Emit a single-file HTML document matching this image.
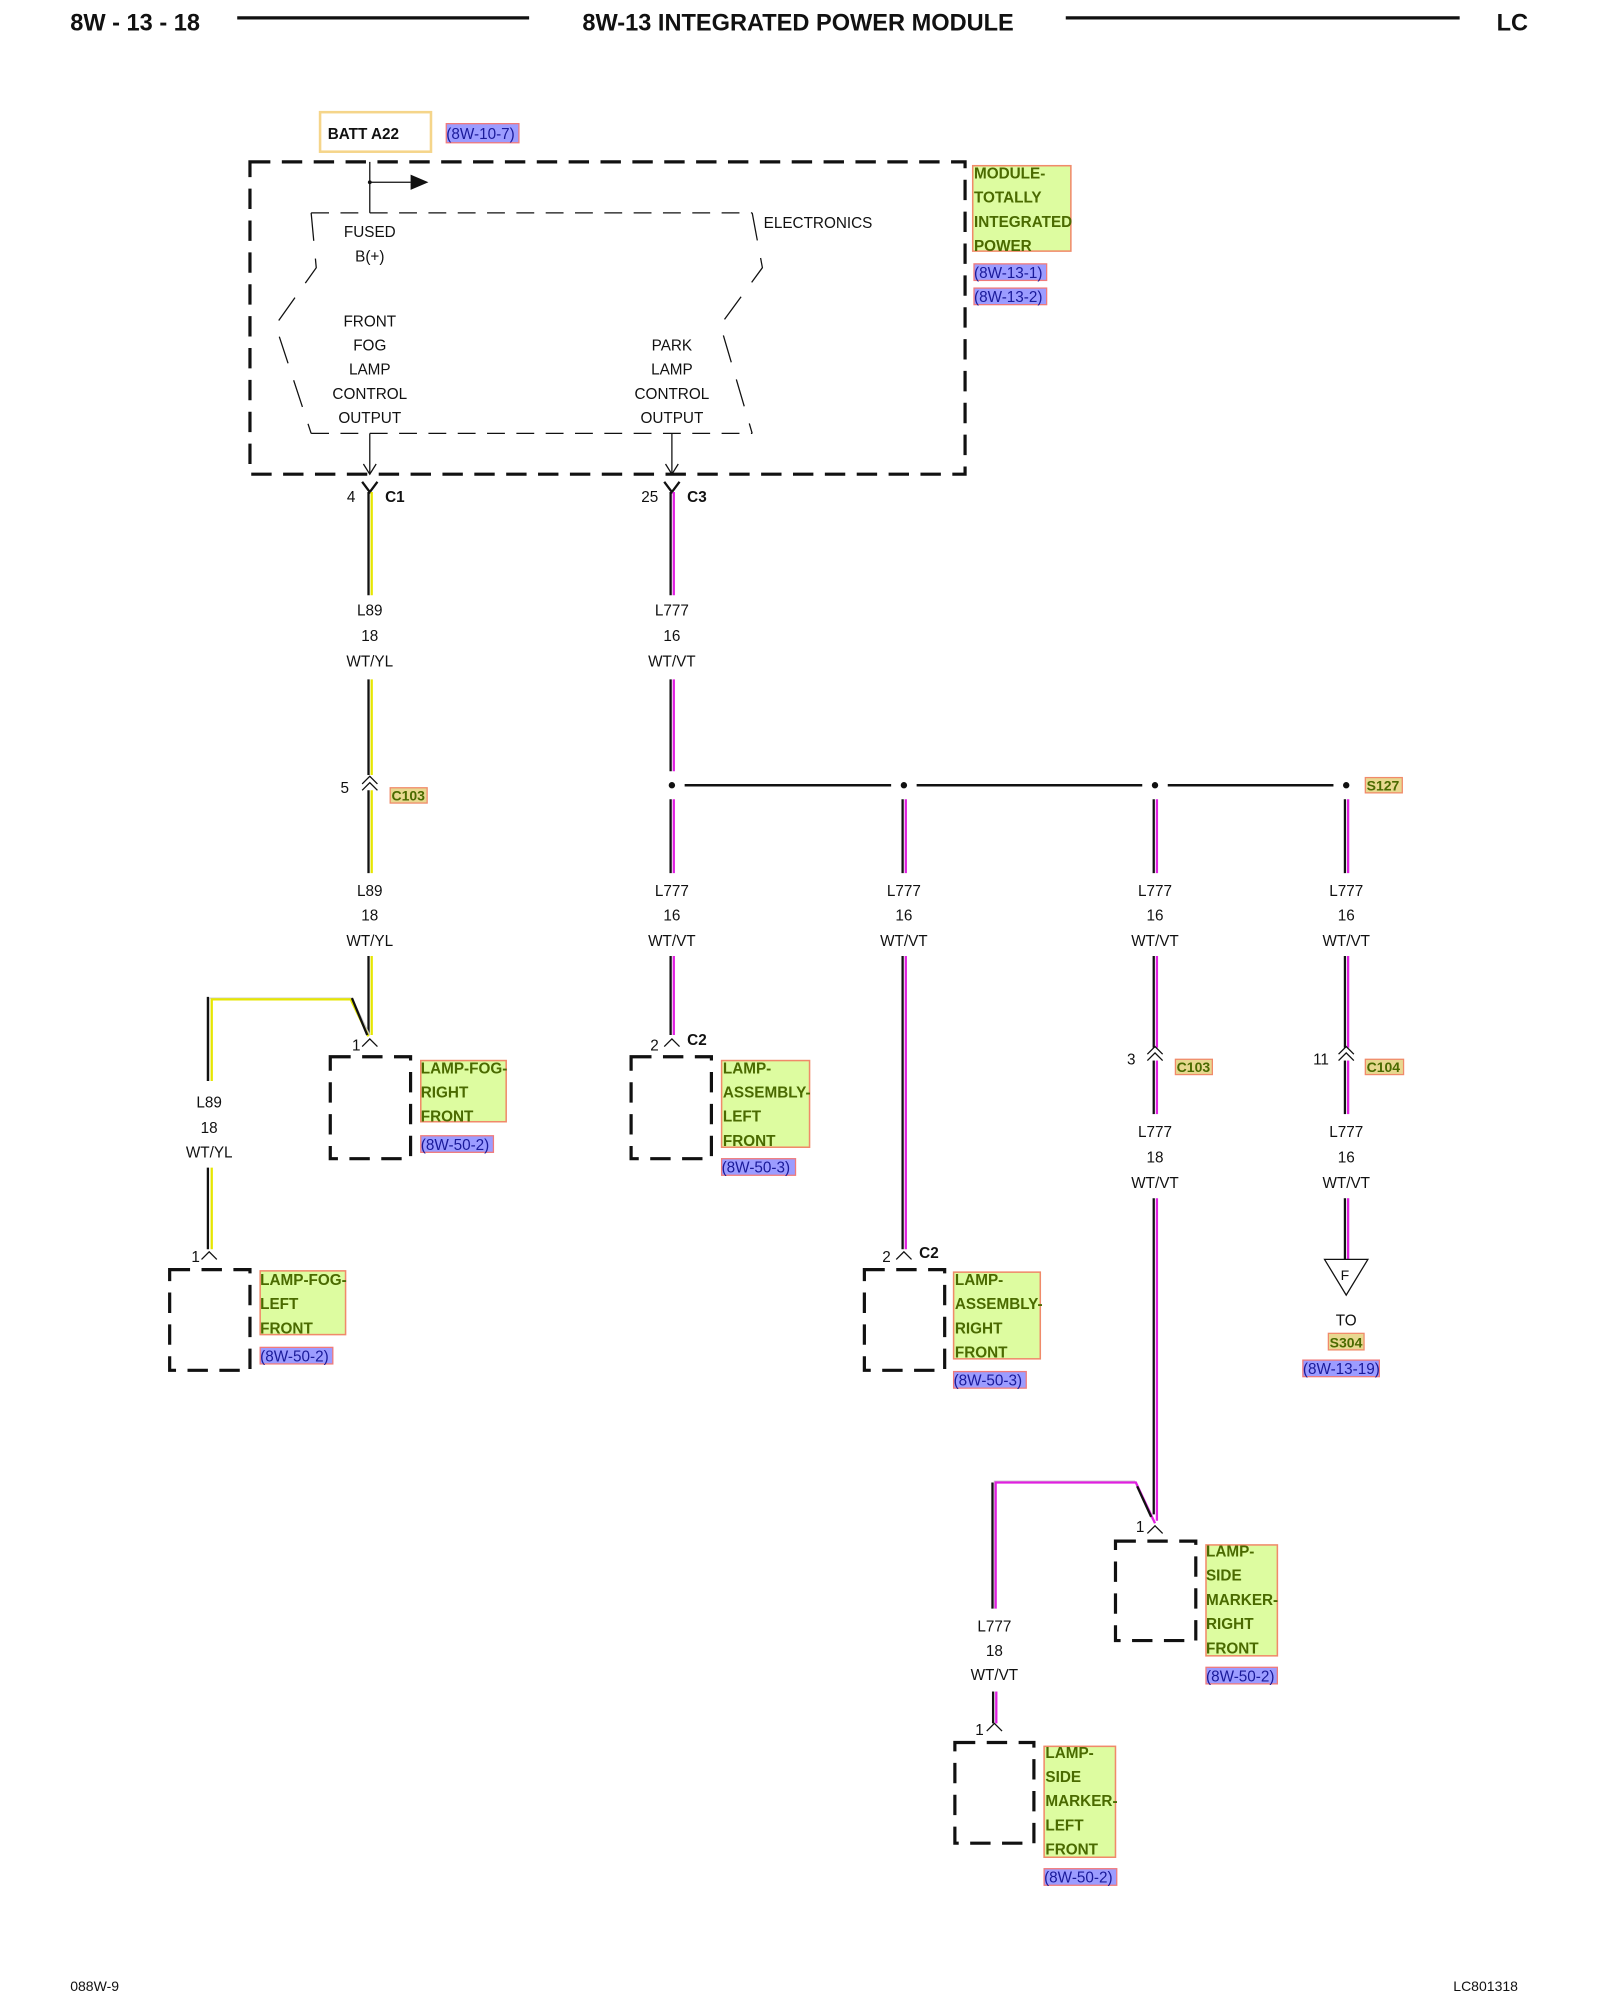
<!DOCTYPE html>
<html><head><meta charset="utf-8"><style>
html,body{margin:0;padding:0;background:#fff;}
svg{display:block;}
text{font-family:"Liberation Sans",sans-serif;}
.t{font-size:12px;fill:#111;text-anchor:middle;}
.tl{font-size:12px;fill:#111;}
.lb{font-size:12px;font-weight:bold;fill:#4a6a00;}
.rf{font-size:12px;fill:#1a1a9a;}
.lbox{fill:#ddfca0;stroke:#f08a6a;stroke-width:1.2;}
.rbox{fill:#9c9cff;stroke:#f07a7a;stroke-width:1;}
.cbox{fill:#e8d890;stroke:#f08a6a;stroke-width:1;}
.bk{stroke:#111;stroke-width:1.8;fill:none;}
.ye{stroke:#e6e600;stroke-width:1.8;fill:none;}
.mg{stroke:#e020e0;stroke-width:1.8;fill:none;}
.gy{stroke:#ccc;stroke-width:1;fill:none;}
.db{fill:none;stroke:#111;stroke-width:2.5;stroke-dasharray:16 9;}
.thin{stroke:#111;stroke-width:1;fill:none;}
</style></head><body>
<svg width="1600" height="2000" viewBox="0 0 1255 1569" xmlns="http://www.w3.org/2000/svg">
<!-- header -->
<text x="55" y="24" style="font-size:18.5px;font-weight:bold;fill:#111">8W - 13 - 18</text>
<line x1="186" y1="14" x2="415" y2="14" stroke="#111" stroke-width="2.5"/>
<text x="626" y="24" style="font-size:18.5px;font-weight:bold;fill:#111;text-anchor:middle">8W-13 INTEGRATED POWER MODULE</text>
<line x1="836" y1="14" x2="1145" y2="14" stroke="#111" stroke-width="2.5"/>
<text x="1174" y="24" style="font-size:18.5px;font-weight:bold;fill:#111">LC</text>
<text x="55" y="1562" style="font-size:11px;fill:#111">088W-9</text>
<text x="1140" y="1562" style="font-size:11px;fill:#111">LC801318</text>

<!-- BATT -->
<rect x="251" y="88" width="87" height="31" fill="#fff" stroke="#f5d58a" stroke-width="2"/>
<text x="257" y="109" style="font-size:12px;font-weight:bold;fill:#111">BATT A22</text>
<rect class="rbox" x="350" y="97" width="57" height="15"/><text class="rf" x="350" y="109">(8W-10-7)</text>

<!-- module -->
<rect class="db" x="196" y="127" width="561" height="245"/>
<line class="thin" x1="290" y1="127" x2="290" y2="167" stroke-width="1.5"/>
<line class="thin" x1="290" y1="143" x2="322" y2="143" stroke-width="1.5"/>
<circle cx="290" cy="143" r="1.5" fill="#111"/>
<polygon points="322,137 336,143 322,149" fill="#111"/>
<polyline points="244,167 590,167" class="thin" stroke-dasharray="14 9"/>
<polyline points="244,340 590,340" class="thin" stroke-dasharray="14 9"/>
<polyline points="244,167 248,210 216,255 244,340" class="thin" stroke-dasharray="22 14"/>
<polyline points="590,167 598,210 565,255 590,340" class="thin" stroke-dasharray="22 14"/>
<text class="t" x="290" y="186">FUSED</text><text class="t" x="290" y="205">B(+)</text>
<text class="t" x="290" y="256">FRONT</text><text class="t" x="290" y="275">FOG</text><text class="t" x="290" y="294">LAMP</text><text class="t" x="290" y="313">CONTROL</text><text class="t" x="290" y="332">OUTPUT</text>
<text class="t" x="527" y="275">PARK</text><text class="t" x="527" y="294">LAMP</text><text class="t" x="527" y="313">CONTROL</text><text class="t" x="527" y="332">OUTPUT</text>
<text class="tl" x="599" y="179">ELECTRONICS</text>
<line class="thin" x1="290" y1="340" x2="290" y2="372"/><polyline class="thin" points="285,364 290,372 295,364"/>
<line class="thin" x1="527" y1="340" x2="527" y2="372"/><polyline class="thin" points="522,364 527,372 532,364"/>
<rect class="lbox" x="763" y="130" width="77" height="67"/>
<text class="lb" x="764" y="140">MODULE-</text><text class="lb" x="764" y="159">TOTALLY</text><text class="lb" x="764" y="178">INTEGRATED</text><text class="lb" x="764" y="197">POWER</text>
<rect class="rbox" x="764" y="207" width="57" height="13"/><text class="rf" x="764" y="218">(8W-13-1)</text>
<rect class="rbox" x="764" y="226" width="57" height="13"/><text class="rf" x="764" y="237">(8W-13-2)</text>

<!-- C1 / C3 connectors -->
<polyline class="bk" stroke-width="1.2" points="284,378 290,386 296,378"/>
<text class="tl" x="272" y="394">4</text><text x="302" y="394" style="font-size:12px;font-weight:bold;fill:#111">C1</text>
<polyline class="bk" stroke-width="1.2" points="521,378 527,386 533,378"/>
<text class="tl" x="503" y="394">25</text><text x="539" y="394" style="font-size:12px;font-weight:bold;fill:#111">C3</text>

<!-- L89 wires -->
<g>
<line class="bk" x1="289" y1="386" x2="289" y2="467"/><line class="ye" x1="291.5" y1="386" x2="291.5" y2="467"/>
<text class="t" x="290" y="483">L89</text><text class="t" x="290" y="503">18</text><text class="t" x="290" y="523">WT/YL</text>
<line class="bk" x1="289" y1="533" x2="289" y2="608"/><line class="ye" x1="291.5" y1="533" x2="291.5" y2="608"/>
<polyline class="thin" points="284,615 290,609 296,615"/><polyline class="thin" points="284,620 290,614 296,620"/>
<text class="tl" x="267" y="622">5</text>
<rect class="cbox" x="306" y="618" width="29" height="12"/><text class="lb" x="307" y="628" style="font-size:11px">C103</text>
<line class="bk" x1="289" y1="620" x2="289" y2="685"/><line class="ye" x1="291.5" y1="620" x2="291.5" y2="685"/>
<text class="t" x="290" y="703">L89</text><text class="t" x="290" y="722">18</text><text class="t" x="290" y="742">WT/YL</text>
<line class="bk" x1="289" y1="750" x2="289" y2="812"/><line class="ye" x1="291.5" y1="750" x2="291.5" y2="812"/>
<polyline class="gy" stroke-width="3" points="164,848 164,783 276,783 290,812"/>
<polyline class="bk" points="163,848 163,782"/><polyline class="ye" points="166,848 166,784 275,784 289,813"/>
<line class="bk" x1="276" y1="783" x2="288" y2="812" stroke-width="1.2"/>
<text class="t" x="164" y="869">L89</text><text class="t" x="164" y="889">18</text><text class="t" x="164" y="908">WT/YL</text>
<line class="bk" x1="163" y1="916" x2="163" y2="980"/><line class="ye" x1="166" y1="916" x2="166" y2="980"/>
</g>
<!-- fog right -->
<polyline class="thin" points="284,821 290,815 296,821"/><text class="tl" x="276" y="824">1</text>
<rect class="db" x="259" y="829" width="63" height="80"/>
<rect class="lbox" x="330" y="832" width="67" height="48"/>
<text class="lb" x="330" y="842">LAMP-FOG-</text><text class="lb" x="330" y="861">RIGHT</text><text class="lb" x="330" y="880">FRONT</text>
<rect class="rbox" x="330" y="891" width="57" height="13"/><text class="rf" x="330" y="902">(8W-50-2)</text>
<!-- fog left -->
<polyline class="thin" points="158,988 164,982 170,988"/><text class="tl" x="150" y="990">1</text>
<rect class="db" x="133" y="996" width="63" height="79"/>
<rect class="lbox" x="204" y="997" width="67" height="50"/>
<text class="lb" x="204" y="1008">LAMP-FOG-</text><text class="lb" x="204" y="1027">LEFT</text><text class="lb" x="204" y="1046">FRONT</text>
<rect class="rbox" x="204" y="1057" width="57" height="13"/><text class="rf" x="204" y="1068">(8W-50-2)</text>

<!-- L777 main -->
<line class="bk" x1="526" y1="386" x2="526" y2="467"/><line class="mg" x1="528.5" y1="386" x2="528.5" y2="467"/>
<text class="t" x="527" y="483">L777</text><text class="t" x="527" y="503">16</text><text class="t" x="527" y="523">WT/VT</text>
<line class="bk" x1="526" y1="533" x2="526" y2="605"/><line class="mg" x1="528.5" y1="533" x2="528.5" y2="605"/>
<line x1="537" y1="616" x2="699" y2="616" stroke="#111" stroke-width="2"/>
<line x1="719" y1="616" x2="896" y2="616" stroke="#111" stroke-width="2"/>
<line x1="916" y1="616" x2="1046" y2="616" stroke="#111" stroke-width="2"/>
<circle cx="527" cy="616" r="2.5" fill="#111"/><circle cx="709" cy="616" r="2.5" fill="#111"/>
<circle cx="906" cy="616" r="2.5" fill="#111"/><circle cx="1056" cy="616" r="2.5" fill="#111"/>
<rect class="cbox" x="1071" y="610" width="29" height="12"/><text class="lb" x="1072" y="620" style="font-size:11px">S127</text>

<!-- branch top segments & labels -->
<g>
<line class="bk" x1="526" y1="627" x2="526" y2="685"/><line class="mg" x1="528.5" y1="627" x2="528.5" y2="685"/>
<line class="bk" x1="708" y1="627" x2="708" y2="685"/><line class="mg" x1="710.5" y1="627" x2="710.5" y2="685"/>
<line class="bk" x1="905" y1="627" x2="905" y2="685"/><line class="mg" x1="907.5" y1="627" x2="907.5" y2="685"/>
<line class="bk" x1="1055" y1="627" x2="1055" y2="685"/><line class="mg" x1="1057.5" y1="627" x2="1057.5" y2="685"/>
<text class="t" x="527" y="703">L777</text><text class="t" x="527" y="722">16</text><text class="t" x="527" y="742">WT/VT</text>
<text class="t" x="709" y="703">L777</text><text class="t" x="709" y="722">16</text><text class="t" x="709" y="742">WT/VT</text>
<text class="t" x="906" y="703">L777</text><text class="t" x="906" y="722">16</text><text class="t" x="906" y="742">WT/VT</text>
<text class="t" x="1056" y="703">L777</text><text class="t" x="1056" y="722">16</text><text class="t" x="1056" y="742">WT/VT</text>
</g>

<!-- left assembly -->
<line class="bk" x1="526" y1="750" x2="526" y2="812"/><line class="mg" x1="528.5" y1="750" x2="528.5" y2="812"/>
<polyline class="thin" points="521,821 527,815 533,821"/><text class="tl" x="510" y="824">2</text>
<text x="539" y="820" style="font-size:12px;font-weight:bold;fill:#111">C2</text>
<rect class="db" x="495" y="829" width="63" height="80"/>
<rect class="lbox" x="566" y="832" width="69" height="68"/>
<text class="lb" x="567" y="842">LAMP-</text><text class="lb" x="567" y="861">ASSEMBLY-</text><text class="lb" x="567" y="880">LEFT</text><text class="lb" x="567" y="899">FRONT</text>
<rect class="rbox" x="566" y="909" width="58" height="13"/><text class="rf" x="566" y="920">(8W-50-3)</text>

<!-- right assembly -->
<line class="bk" x1="708" y1="750" x2="708" y2="980"/><line class="mg" x1="710.5" y1="750" x2="710.5" y2="980"/>
<polyline class="thin" points="703,988 709,982 715,988"/><text class="tl" x="692" y="990">2</text>
<text x="721" y="987" style="font-size:12px;font-weight:bold;fill:#111">C2</text>
<rect class="db" x="678" y="996" width="63" height="79"/>
<rect class="lbox" x="748" y="998" width="68" height="68"/>
<text class="lb" x="749" y="1008">LAMP-</text><text class="lb" x="749" y="1027">ASSEMBLY-</text><text class="lb" x="749" y="1046">RIGHT</text><text class="lb" x="749" y="1065">FRONT</text>
<rect class="rbox" x="748" y="1076" width="57" height="13"/><text class="rf" x="748" y="1087">(8W-50-3)</text>

<!-- 906 branch -->
<line class="bk" x1="905" y1="750" x2="905" y2="822"/><line class="mg" x1="907.5" y1="750" x2="907.5" y2="822"/>
<polyline class="thin" points="900,827 906,821 912,827"/><polyline class="thin" points="900,832 906,826 912,832"/>
<text class="tl" x="884" y="835">3</text>
<rect class="cbox" x="922" y="831" width="29" height="12"/><text class="lb" x="923" y="841" style="font-size:11px">C103</text>
<line class="bk" x1="905" y1="832" x2="905" y2="874"/><line class="mg" x1="907.5" y1="832" x2="907.5" y2="874"/>
<text class="t" x="906" y="892">L777</text><text class="t" x="906" y="912">18</text><text class="t" x="906" y="932">WT/VT</text>
<line class="bk" x1="905" y1="940" x2="905" y2="1188"/><line class="mg" x1="907.5" y1="940" x2="907.5" y2="1193"/>
<polyline class="gy" stroke-width="3" points="780,1262 780,1162 890,1162 904,1192"/>
<line class="bk" x1="778.5" y1="1163" x2="778.5" y2="1262"/>
<polyline class="mg" points="781,1262 781,1163 891,1163 906,1195"/>
<line class="bk" x1="892" y1="1166" x2="903" y2="1190" stroke-width="1.2"/>
<polyline class="thin" points="900,1203 906,1197 912,1203"/><text class="tl" x="891" y="1202">1</text>
<rect class="db" x="875" y="1209" width="63" height="78"/>
<rect class="lbox" x="946" y="1212" width="56" height="87"/>
<text class="lb" x="946" y="1221">LAMP-</text><text class="lb" x="946" y="1240">SIDE</text><text class="lb" x="946" y="1259">MARKER-</text><text class="lb" x="946" y="1278">RIGHT</text><text class="lb" x="946" y="1297">FRONT</text>
<rect class="rbox" x="946" y="1308" width="56" height="13"/><text class="rf" x="946" y="1319">(8W-50-2)</text>
<text class="t" x="780" y="1280">L777</text><text class="t" x="780" y="1299">18</text><text class="t" x="780" y="1318">WT/VT</text>
<line class="bk" x1="779" y1="1327" x2="779" y2="1352"/><line class="mg" x1="781.5" y1="1327" x2="781.5" y2="1352"/>
<polyline class="thin" points="774,1358 780,1352 786,1358"/><text class="tl" x="765" y="1361">1</text>
<rect class="db" x="749" y="1367" width="62" height="79"/>
<rect class="lbox" x="819" y="1370" width="56" height="87"/>
<text class="lb" x="820" y="1379">LAMP-</text><text class="lb" x="820" y="1398">SIDE</text><text class="lb" x="820" y="1417">MARKER-</text><text class="lb" x="820" y="1436">LEFT</text><text class="lb" x="820" y="1455">FRONT</text>
<rect class="rbox" x="819" y="1466" width="57" height="13"/><text class="rf" x="819" y="1477">(8W-50-2)</text>

<!-- 1056 branch -->
<line class="bk" x1="1055" y1="750" x2="1055" y2="822"/><line class="mg" x1="1057.5" y1="750" x2="1057.5" y2="822"/>
<polyline class="thin" points="1050,827 1056,821 1062,827"/><polyline class="thin" points="1050,832 1056,826 1062,832"/>
<text class="tl" x="1030" y="835">11</text>
<rect class="cbox" x="1071" y="831" width="30" height="12"/><text class="lb" x="1072" y="841" style="font-size:11px">C104</text>
<line class="bk" x1="1055" y1="832" x2="1055" y2="874"/><line class="mg" x1="1057.5" y1="832" x2="1057.5" y2="874"/>
<text class="t" x="1056" y="892">L777</text><text class="t" x="1056" y="912">16</text><text class="t" x="1056" y="932">WT/VT</text>
<line class="bk" x1="1055" y1="940" x2="1055" y2="988"/><line class="mg" x1="1057.5" y1="940" x2="1057.5" y2="988"/>
<polygon points="1039,988 1073,988 1056,1016" fill="#fff" stroke="#111" stroke-width="1"/>
<text class="t" x="1055" y="1004" style="font-size:11px">F</text>
<text class="t" x="1056" y="1040">TO</text>
<rect class="cbox" x="1042" y="1046" width="28" height="13"/><text class="lb" x="1043" y="1057" style="font-size:11px">S304</text>
<rect class="rbox" x="1022" y="1067" width="60" height="13"/><text class="rf" x="1022" y="1078">(8W-13-19)</text>
</svg>
</body></html>
